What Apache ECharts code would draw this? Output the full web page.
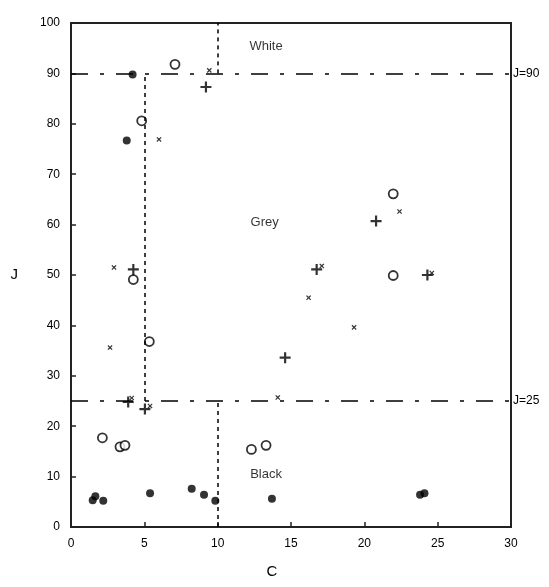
<!DOCTYPE html>
<html><head><meta charset="utf-8">
<script src="https://cdn.jsdelivr.net/npm/echarts@6/dist/echarts.min.js"></script>
<style>html,body{margin:0;padding:0;background:#fff}#c{width:549px;height:587px}</style>
</head><body><div id="c"></div>
<script>
const xTicks = [0, 5, 10, 15, 20, 25, 30];
const yTicks = [0, 10, 20, 30, 40, 50, 60, 70, 80, 90, 100];
const filledDots = [[4.2,89.8],[3.8,76.7],[1.48,5.3],[1.66,6.1],[2.2,5.2],[5.39,6.7],[8.23,7.6],[9.07,6.4],[9.84,5.2],[13.7,5.6],[23.8,6.4],[24.1,6.7]];
const openCircles = [[7.09,91.8],[4.82,80.6],[4.25,49.1],[5.34,36.8],[21.97,66.1],[21.97,49.9],[2.14,17.7],[3.34,15.9],[3.68,16.2],[12.3,15.4],[13.3,16.2]];
const plusMarks = [[9.2,87.3],[4.25,51.1],[14.6,33.6],[20.8,60.7],[16.75,51.1],[24.3,50.0],[3.9,24.8],[5.04,23.4]];
const crossMarks = [[9.43,90.6],[6.0,76.9],[2.93,51.5],[2.66,35.6],[16.2,45.5],[22.4,62.6],[17.1,51.8],[24.6,50.4],[19.3,39.6],[4.14,25.6],[5.39,24.0],[14.1,25.7]];
const regionLabels = [["White",13.3,95.4],["Grey",13.2,60.4],["Black",13.3,10.4]];
const jLevels = [90, 25];
const dividers = [[[5,25],[5,90]],[[10,0],[10,25]],[[10,90],[10,100]]];

const font = '"Liberation Sans", Arial, sans-serif';
const chart = echarts.init(document.getElementById('c'), null, {renderer:'canvas'});
const plusPath = 'path://M4,0H6V4H10V6H6V10H4V6H0V4H4Z';
chart.setOption({
  animation:false,
  grid:{left:71,top:23,right:38,bottom:60,show:true,borderColor:'#222',borderWidth:2,backgroundColor:'#fff'},
  xAxis:{type:'value',min:xTicks[0],max:xTicks[xTicks.length-1],interval:5,
    name:'C',nameLocation:'middle',nameGap:37,nameTextStyle:{fontFamily:font,fontSize:15,color:'#000',padding:[0,38,0,0]},
    axisLine:{show:true,lineStyle:{color:'#222',width:2}},
    axisTick:{show:true,inside:true,length:5,lineStyle:{color:'#222',width:1.5}},
    axisLabel:{fontFamily:font,fontSize:12,color:'#000',margin:11},
    splitLine:{show:false}},
  yAxis:{type:'value',min:yTicks[0],max:yTicks[yTicks.length-1],interval:10,
    name:'J',nameLocation:'middle',nameGap:53,nameRotate:0,nameTextStyle:{fontFamily:font,fontSize:15,color:'#000',padding:[0,0,8,0]},
    axisLine:{show:true,lineStyle:{color:'#222',width:2}},
    axisTick:{show:true,inside:true,length:5,lineStyle:{color:'#222',width:1.5}},
    axisLabel:{fontFamily:font,fontSize:12,color:'#000',margin:11},
    splitLine:{show:false}},
  series:[
    {type:'scatter',data:[],silent:true,
      markLine:{silent:true,symbol:['none','none'],animation:false,
        data:[
          ...jLevels.map(j=>({yAxis:j,label:{show:true,position:'end',formatter:'J='+j,distance:2,fontFamily:font,fontSize:12,color:'#000'},
            lineStyle:{type:[17,12,4,12],color:'#000',width:1.5}})),
          ...dividers.map(d=>[{coord:d[0],lineStyle:{type:[4,4],color:'#000',width:1.5},label:{show:false}},{coord:d[1]}])
        ]}},
    {type:'scatter',data:filledDots,symbol:'circle',symbolSize:8,itemStyle:{color:'#000'}},
    {type:'scatter',data:openCircles,symbol:'circle',symbolSize:9,itemStyle:{color:'#fff',borderColor:'#000',borderWidth:1.8}},
    {type:'scatter',data:plusMarks,symbol:plusPath,symbolSize:11,itemStyle:{color:'#000'}},
    {type:'scatter',data:crossMarks,symbol:plusPath,symbolSize:6,symbolRotate:45,itemStyle:{color:'#000'}},
    {type:'scatter',data:regionLabels.map(r=>({value:[r[1],r[2]],name:r[0]})),symbolSize:0,silent:true,
      label:{show:true,position:'inside',formatter:p=>p.name,fontFamily:font,fontSize:13,color:'#000'}}
  ]
});
</script></body></html>
